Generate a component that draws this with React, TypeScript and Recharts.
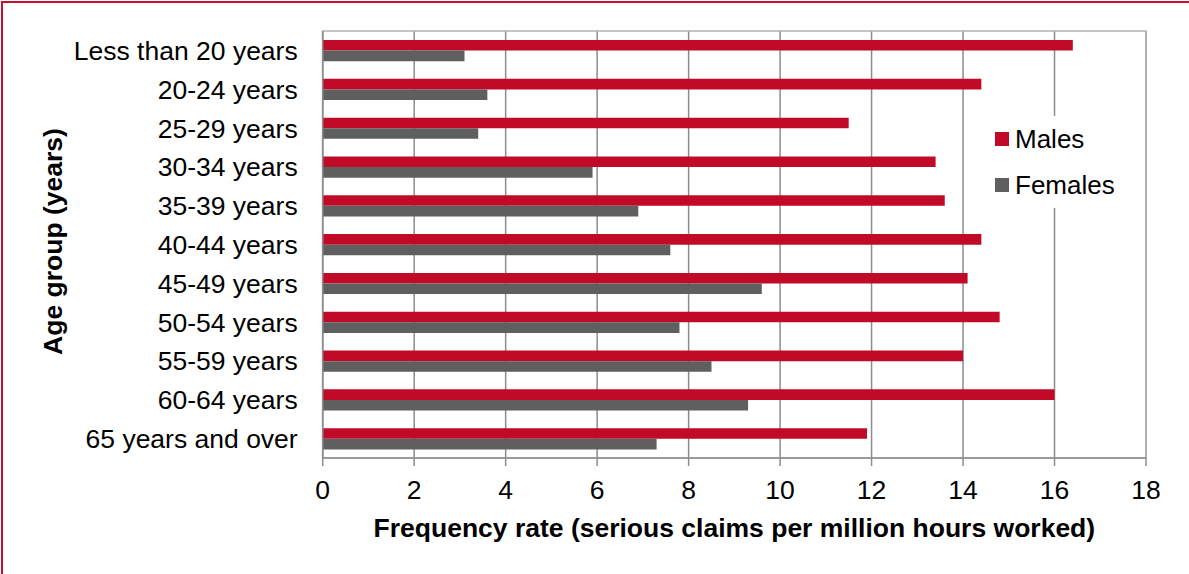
import {
  Bar,
  BarChart,
  CartesianGrid,
  Legend,
  ReferenceArea,
  XAxis,
  YAxis,
} from "recharts";

const FONT = "'Liberation Sans', Arial, sans-serif";

const AGE_GROUPS = [
  "Less than 20 years",
  "20-24 years",
  "25-29 years",
  "30-34 years",
  "35-39 years",
  "40-44 years",
  "45-49 years",
  "50-54 years",
  "55-59 years",
  "60-64 years",
  "65 years and over",
];

const MALES = [16.4, 14.4, 11.5, 13.4, 13.6, 14.4, 14.1, 14.8, 14.0, 16.0, 11.9];
const FEMALES = [3.1, 3.6, 3.4, 5.9, 6.9, 7.6, 9.6, 7.8, 8.5, 9.3, 7.3];

const SERIES = ["Males", "Females"];
const X_TICKS = [0, 2, 4, 6, 8, 10, 12, 14, 16, 18];

const MALE_COLOUR = "#C00A27";
const FEMALE_COLOUR = "#5F5F5F";
const GRID_COLOUR = "#8C8C8C";
const BORDER_COLOUR = "#B2B2B2";

const rows = AGE_GROUPS.map((name, i) => ({
  name,
  Males: MALES[i],
  Females: FEMALES[i],
}));

const YTick = (props: any) => {
  const { x, y, payload } = props;
  return (
    <text
      x={x - 25}
      y={y + 9.5}
      textAnchor="end"
      fontSize={26.5}
      fontFamily={FONT}
      fill="#000"
    >
      {payload.value}
    </text>
  );
};

const XTick = (props: any) => {
  const { x, y, payload } = props;
  return (
    <text
      x={x}
      y={y + 33}
      textAnchor="middle"
      fontSize={26.5}
      fontFamily={FONT}
      fill="#000"
    >
      {payload.value}
    </text>
  );
};

const XTitle = (props: any) => {
  const { viewBox } = props;
  return (
    <text
      x={viewBox.x + viewBox.width / 2}
      y={viewBox.y + 79}
      textAnchor="middle"
      fontSize={26.5}
      fontWeight="bold"
      fontFamily={FONT}
      fill="#000"
    >
      Frequency rate (serious claims per million hours worked)
    </text>
  );
};

const YTitle = (props: any) => {
  const { viewBox } = props;
  const cx = 61.5;
  const cy = viewBox.y + viewBox.height / 2 - 3;
  return (
    <text
      x={cx}
      y={cy}
      transform={`rotate(-90 ${cx} ${cy})`}
      textAnchor="middle"
      fontSize={26.5}
      fontWeight="bold"
      fontFamily={FONT}
      fill="#000"
    >
      Age group (years)
    </text>
  );
};

const LegendBox = (props: any) => {
  const items = [...(props.payload ?? [])].sort(
    (a: any, b: any) => SERIES.indexOf(a.value) - SERIES.indexOf(b.value),
  );
  return (
    <div
      style={{
        background: "#fff",
        width: 145,
        height: 92,
        paddingTop: 0.5,
        boxSizing: "border-box",
        fontFamily: FONT,
        fontSize: 26,
      }}
    >
      {items.map((it: any) => (
        <div
          key={it.value}
          style={{ display: "flex", alignItems: "center", height: 45.5 }}
        >
          <span
            style={{
              width: 14,
              height: 14,
              marginLeft: 10,
              marginRight: 6,
              background: it.color,
              display: "inline-block",
            }}
          />
          <span style={{ color: "#000", lineHeight: 1 }}>{it.value}</span>
        </div>
      ))}
    </div>
  );
};

export default function App() {
  return (
    <div
      style={{
        position: "absolute",
        left: 0,
        top: 0,
        width: 1189,
        height: 574,
        overflow: "hidden",
        background: "#fff",
      }}
    >
      <div
        style={{
          position: "absolute",
          left: 1,
          top: 1,
          width: 1300,
          height: 700,
          borderLeft: "2px solid #C8102E",
          borderTop: "2px solid #C8102E",
        }}
      />
      <div style={{ position: "absolute", left: 0, top: 0 }}>
        <BarChart
          width={1189}
          height={574}
          data={rows}
          layout="vertical"
          margin={{ top: 31, right: 43, bottom: 0, left: 0 }}
          barSize={10.6}
          barGap={0}
        >
          <CartesianGrid
            horizontal={false}
            stroke={GRID_COLOUR}
            strokeWidth={1.5}
          />
          <XAxis
            type="number"
            domain={[0, 18]}
            ticks={X_TICKS}
            interval={0}
            height={116}
            tickSize={8}
            tickMargin={0}
            axisLine={{ stroke: GRID_COLOUR, strokeWidth: 1.5 }}
            tickLine={{ stroke: GRID_COLOUR, strokeWidth: 1.5 }}
            tick={<XTick />}
            label={<XTitle />}
          />
          <YAxis
            type="category"
            dataKey="name"
            width={322.7}
            interval={0}
            tickSize={0}
            tickMargin={0}
            tickLine={false}
            axisLine={{ stroke: GRID_COLOUR, strokeWidth: 1.5 }}
            tick={<YTick />}
            label={<YTitle />}
          />
          <ReferenceArea
            x1={0}
            x2={18}
            fill="none"
            stroke={BORDER_COLOUR}
            strokeWidth={1.5}
          />
          <Legend
            layout="horizontal"
            verticalAlign="middle"
            align="center"
            content={<LegendBox />}
            wrapperStyle={{ left: 985, top: 116, width: 145, height: 92 }}
          />
          <Bar dataKey="Males" fill={MALE_COLOUR} isAnimationActive={false} />
          <Bar
            dataKey="Females"
            fill={FEMALE_COLOUR}
            isAnimationActive={false}
          />
        </BarChart>
      </div>
    </div>
  );
}
